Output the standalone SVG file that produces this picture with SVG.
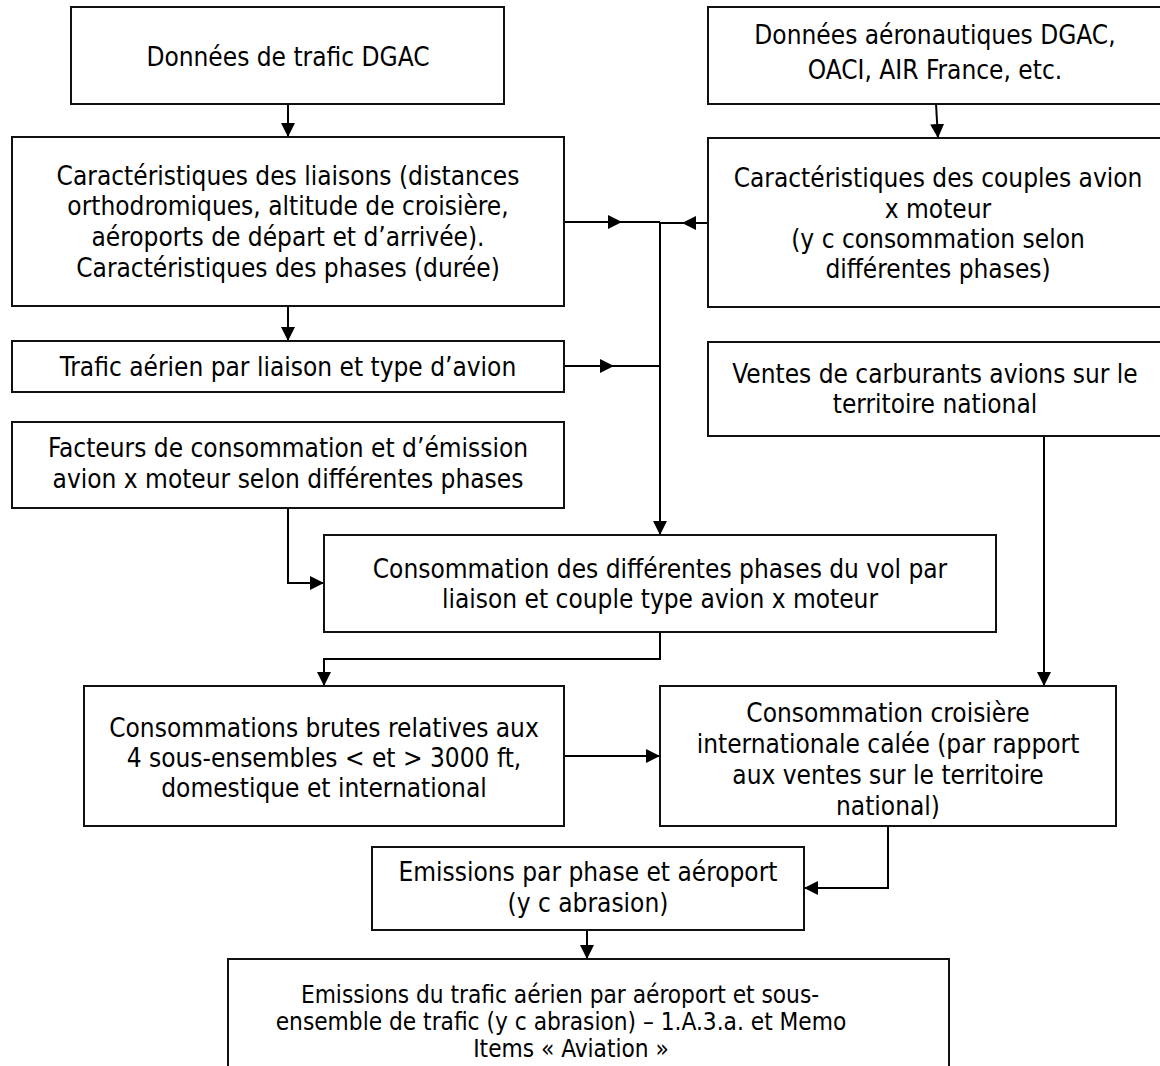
<svg xmlns="http://www.w3.org/2000/svg" width="1160" height="1066" viewBox="0 0 1160 1066">
<style>
.box{fill:#fff;stroke:#111;stroke-width:2}
.t{font-family:"DejaVu Sans Condensed","DejaVu Sans",sans-serif;font-size:26px;fill:#000;text-anchor:middle}
.s{font-size:24.2px}
.c{fill:none;stroke:#000;stroke-width:2}
</style>
<defs>
<marker id="ah" markerUnits="userSpaceOnUse" markerWidth="14" markerHeight="14" refX="14" refY="7" orient="auto">
<path d="M0,0 L14,7 L0,14 z" fill="#000"/>
</marker>
</defs>
<rect width="1160" height="1066" fill="#fff"/>
<g id="connectors">
<path class="c" d="M288,104 L288,137" marker-end="url(#ah)"/>
<path class="c" d="M936,104 L938,138" marker-end="url(#ah)"/>
<path class="c" d="M564,222 L622,222 L660,222" marker-mid="url(#ah)"/>
<path class="c" d="M708,223 L682,223 L660,223" marker-mid="url(#ah)"/>
<path class="c" d="M564,366 L614,366 L660,366" marker-mid="url(#ah)"/>
<path class="c" d="M660,222 L660,535" marker-end="url(#ah)"/>
<path class="c" d="M288,306 L288,341" marker-end="url(#ah)"/>
<path class="c" d="M288,508 L288,583 L324,583" marker-end="url(#ah)"/>
<path class="c" d="M660,632 L660,659 L324,659 L324,686" marker-end="url(#ah)"/>
<path class="c" d="M1044,436 L1044,686" marker-end="url(#ah)"/>
<path class="c" d="M564,756 L660,756" marker-end="url(#ah)"/>
<path class="c" d="M888,826 L888,888 L804,888" marker-end="url(#ah)"/>
<path class="c" d="M587,930 L587,959" marker-end="url(#ah)"/>
</g>
<g id="n1">
<rect class="box" x="71" y="7" width="433" height="97"/>
<text class="t" x="288" y="66">Données de trafic DGAC</text>
</g>
<g id="n2">
<rect class="box" x="708" y="7" width="454" height="97"/>
<text class="t" x="935" y="44">Données aéronautiques DGAC,</text>
<text class="t" x="935" y="79">OACI, AIR France, etc.</text>
</g>
<g id="n3">
<rect class="box" x="12" y="137" width="552" height="169"/>
<text class="t" x="288" y="185">Caractéristiques des liaisons (distances</text>
<text class="t" x="288" y="215">orthodromiques, altitude de croisière,</text>
<text class="t" x="288" y="246">aéroports de départ et d’arrivée).</text>
<text class="t" x="288" y="277">Caractéristiques des phases (durée)</text>
</g>
<g id="n4">
<rect class="box" x="708" y="138" width="454" height="169"/>
<text class="t" x="938" y="187">Caractéristiques des couples avion</text>
<text class="t" x="938" y="218">x moteur</text>
<text class="t" x="938" y="248">(y c consommation selon</text>
<text class="t" x="938" y="278">différentes phases)</text>
</g>
<g id="n5">
<rect class="box" x="12" y="341" width="552" height="51"/>
<text class="t" x="288" y="376">Trafic aérien par liaison et type d’avion</text>
</g>
<g id="n6">
<rect class="box" x="708" y="342" width="454" height="94"/>
<text class="t" x="935" y="383">Ventes de carburants avions sur le</text>
<text class="t" x="935" y="413">territoire national</text>
</g>
<g id="n7">
<rect class="box" x="12" y="422" width="552" height="86"/>
<text class="t" x="288" y="457">Facteurs de consommation et d’émission</text>
<text class="t" x="288" y="488">avion x moteur selon différentes phases</text>
</g>
<g id="n8">
<rect class="box" x="324" y="535" width="672" height="97"/>
<text class="t" x="660" y="578">Consommation des différentes phases du vol par</text>
<text class="t" x="660" y="608">liaison et couple type avion x moteur</text>
</g>
<g id="n9">
<rect class="box" x="84" y="686" width="480" height="140"/>
<text class="t" x="324" y="737">Consommations brutes relatives aux</text>
<text class="t" x="324" y="767">4 sous-ensembles &lt; et &gt; 3000 ft,</text>
<text class="t" x="324" y="797">domestique et international</text>
</g>
<g id="n10">
<rect class="box" x="660" y="686" width="456" height="140"/>
<text class="t" x="888" y="722">Consommation croisière</text>
<text class="t" x="888" y="753">internationale calée (par rapport</text>
<text class="t" x="888" y="784">aux ventes sur le territoire</text>
<text class="t" x="888" y="815">national)</text>
</g>
<g id="n11">
<rect class="box" x="372" y="847" width="432" height="83"/>
<text class="t" x="588" y="881">Emissions par phase et aéroport</text>
<text class="t" x="588" y="912">(y c abrasion)</text>
</g>
<g id="n12">
<rect class="box" x="228" y="959" width="721" height="130"/>
<text class="t s" x="560" y="1003">Emissions du trafic aérien par aéroport et sous-</text>
<text class="t s" x="561" y="1030">ensemble de trafic (y c abrasion) – 1.A.3.a. et Memo</text>
<text class="t s" x="571" y="1057">Items « Aviation »</text>
</g>
</svg>
